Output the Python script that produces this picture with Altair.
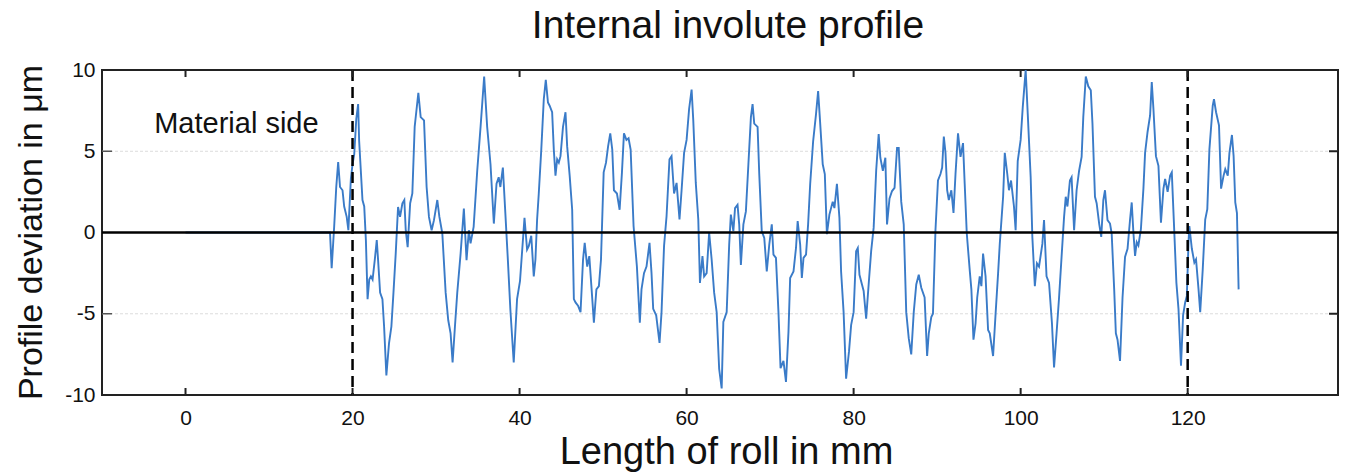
import altair as alt
import pandas as pd

# Length of roll in mm (x) and profile deviation in um (y)
x_mm = [
    0.0, 17.3, 17.5, 17.8, 18.05, 18.28, 18.5, 18.8, 19.0, 19.3, 19.5, 19.8, 20.0, 20.2, 20.45, 20.67,
    20.79, 21.19, 21.4, 21.6, 21.8, 22.0, 22.2, 22.4, 22.66, 22.9, 23.06, 23.3, 23.58, 23.78, 24.05,
    24.37, 24.65, 24.9, 25.17, 25.45, 25.69, 25.97, 26.2, 26.37, 26.6, 26.9, 27.16, 27.44, 27.88,
    28.16, 28.56, 28.87, 29.15, 29.47, 29.75, 30.15, 30.4, 30.75, 31.15, 31.46, 31.74, 31.98, 32.26,
    32.54, 32.94, 33.33, 33.65, 33.93, 34.13, 34.5, 34.93, 35.33, 35.76, 36.12, 36.52, 36.92, 37.24,
    37.5, 37.7, 38.0, 38.3, 38.6, 38.9, 39.3, 39.7, 40.05,
    40.59, 40.9, 41.1, 41.4, 41.7, 41.9, 42.1, 42.3, 42.6, 42.9, 43.14, 43.4, 43.6, 43.9, 44.1, 44.3,
    44.5, 44.7, 44.9, 45.2, 45.5, 45.7, 46.0, 46.3, 46.5, 46.7, 47.0, 47.3, 47.6, 47.8, 48.1, 48.35,
    48.6, 48.9, 49.2, 49.5, 49.75, 50.07, 50.35, 50.6, 50.86, 51.1, 51.3, 51.66, 51.98, 52.26, 52.5,
    52.8, 53.05, 53.3, 53.65, 54.05, 54.4, 54.6, 54.9, 55.2, 55.56, 55.8, 56.0, 56.36, 56.76, 57.0,
    57.3, 57.6, 57.95, 58.2, 58.5, 58.8, 59.15, 59.4, 59.7, 60.0, 60.3, 60.6, 60.8, 61.1, 61.4, 61.6,
    61.9, 62.1, 62.4, 62.7, 63.0, 63.3, 63.6, 63.9, 64.2,
    64.4, 64.8, 65.1, 65.3, 65.6, 65.8, 66.1, 66.3, 66.5, 66.8, 67.1, 67.4, 67.7, 67.9, 68.1, 68.5,
    68.7, 69.0, 69.3, 69.6, 69.9, 70.2, 70.4, 70.7, 71.0, 71.25, 71.6, 71.9, 72.2, 72.4, 72.8, 73.1,
    73.3, 73.6, 73.8, 74.0, 74.3, 74.55, 74.8, 75.15, 75.5, 75.75, 75.95, 76.3, 76.55, 76.8, 77.1,
    77.5, 77.7, 78.0, 78.3, 78.5, 78.8, 79.1, 79.45, 79.7, 80.0, 80.3, 80.5, 80.7, 81.0, 81.2, 81.5,
    81.8, 82.1, 82.4, 82.7, 83.0, 83.2, 83.5, 83.8, 84.0, 84.3, 84.6, 84.9, 85.2, 85.4, 85.7, 86.0,
    86.3, 86.6, 86.9, 87.2, 87.5, 87.8, 88.1,
    88.5, 88.8, 89.0, 89.3, 89.5, 89.8, 90.1, 90.4, 90.6, 90.8, 91.0, 91.2, 91.4, 91.7, 91.96, 92.2,
    92.5, 92.8, 93.1, 93.3, 93.55, 93.9, 94.1, 94.35, 94.6, 94.8, 95.1, 95.3, 95.5, 95.8, 96.1, 96.3,
    96.7, 97.0, 97.3, 97.5, 97.9, 98.1, 98.4, 98.6, 98.85, 99.2, 99.4, 99.65, 100.0, 100.25, 100.6,
    100.85, 101.2, 101.4, 101.7, 101.95, 102.2, 102.6, 102.8, 103.1, 103.4, 103.75, 104.0, 104.3,
    104.6, 104.9, 105.2, 105.4, 105.6, 105.9, 106.1, 106.4, 106.7, 107.0, 107.3, 107.5, 107.8, 108.1,
    108.4, 108.6, 108.9, 109.1, 109.4, 109.65, 109.9, 110.1, 110.4, 110.7, 110.9, 111.2, 111.4,
    111.6, 111.9,
    112.2, 112.5, 112.8, 113.1, 113.3, 113.5, 113.7, 113.9, 114.1, 114.4, 114.7, 114.9, 115.2, 115.5,
    115.7, 115.9, 116.2, 116.5, 116.8, 117.1, 117.3, 117.6, 117.9, 118.1, 118.4, 118.65, 118.9, 119.2,
    119.45, 119.7, 119.9, 120.1, 120.2, 120.5, 120.8, 121.0, 121.3, 121.5, 121.8, 122.1, 122.35,
    122.6, 123.0, 123.15, 123.4, 123.75, 124.0, 124.3, 124.5, 124.8, 125.0, 125.3, 125.5, 125.7,
    125.9, 126.1,
]
dev_um = [
    0.0, 0.0, -2.2, 0.35, 2.8, 4.33, 2.8, 2.6, 1.6, 0.96, 0.14, 3.3, 4.2, 4.8, 7.0, 7.9,
    5.65, 2.0, 1.6, -0.5, -4.1, -2.9, -2.7, -2.9, -1.7, -0.47, -1.7, -3.7, -4.1, -5.8, -8.8,
    -6.8, -5.8, -3.7, -1.3, 1.57, 0.96, 1.8, 2.0, 0.14, -0.9, 1.8, 2.4, 6.5, 8.6,
    7.1, 6.9, 2.8, 0.96, 0.14, 0.76, 2.0, 0.96, -0.06, -3.7, -5.4, -6.2, -8.0, -5.8,
    -3.7, -1.3, 1.47, -1.7, 0.14, -0.67, 0.35, 3.8, 6.5, 9.6, 6.5, 4.2, 0.55, 3.0,
    3.4, 2.8, 4.0, 1.16, -1.7, -4.75, -8.0, -4.1, -3.0,
    0.9, -1.05, -0.84, -0.2, -2.7, -1.66, 0.8, 2.4, 5.1, 8.2, 9.4, 8.0, 7.8, 7.4, 5.1, 3.5,
    4.5, 4.3, 4.7, 6.5, 7.4, 5.3, 3.5, 1.4, -4.1, -4.3, -4.5, -4.9, -1.66, -0.64, -2.1, -1.45,
    -3.3, -5.55, -3.5, -3.3, -1.66, 3.7, 4.3, 5.3, 6.1, 5.1, 2.6, 2.4, 1.4, 3.7, 6.1,
    5.7, 5.8, 5.1, 0.4, -2.1, -5.55, -3.5, -2.5, -2.1, -0.64, -2.5, -4.7, -5.1, -6.8, -4.9,
    -0.84, 1.0, 4.5, 4.7, 2.4, 3.05, 0.8, 2.6, 4.9, 5.7, 7.6, 8.8, 6.9, 3.05, 0.8, -3.1,
    -1.45, -2.7, -2.5, 0.0, -1.66, -3.7, -4.9, -8.4, -9.6,
    -5.5, -4.9, -0.74, 1.1, 0.08, 1.5, 1.7, 0.5, -2.0, 0.5, 1.3, 4.2, 7.1, 7.9, 6.7, 6.5,
    3.6, 0.08, -0.33, -2.4, -0.74, 0.5, -1.36, -1.56, -4.9, -8.35, -7.9, -9.2, -6.1, -2.8, -2.4, -0.95,
    0.7, -0.74, -2.8, -1.56, -1.36, 0.5, 3.0, 5.6, 7.3, 8.7, 7.1, 4.2, 3.6, -0.1, 1.1,
    1.9, 1.5, 3.0, 0.9, -2.4, -4.9, -9.0, -7.3, -5.7, -4.9, -1.15, -0.95, -2.6, -3.2, -3.6, -5.3,
    -3.2, -1.15, 0.3, 3.8, 6.05, 4.6, 3.8, 4.6, 0.5, 2.1, 2.55, 2.75, 5.2, 5.2, 1.9, 0.5,
    -4.9, -6.5, -7.5, -4.9, -3.2, -2.6, -3.4,
    -4.0, -7.6, -6.2, -5.2, -5.0, 0.14, 3.2, 3.6, 4.0, 5.9, 4.9, 2.6, 2.0, 2.6, 1.2, 3.6,
    6.1, 4.65, 5.5, 3.0, -0.06, -2.3, -3.5, -6.6, -5.6, -4.0, -2.7, -3.3, -1.3, -2.7, -6.0, -6.2,
    -7.6, -5.0, -2.5, -0.7, 2.2, 4.9, 3.6, 2.6, 3.2, 1.6, 0.14, 4.4, 5.7, 7.7, 10.0,
    7.3, 3.4, -0.27, -3.3, -1.9, -2.1, -0.7, 0.76, -2.7, -3.1, -5.6, -8.3, -6.2,
    -4.0, -1.5, 0.96, 2.2, 1.6, 3.2, 3.4, 0.14, 2.6, 3.8, 4.65, 7.1, 9.6, 9.0,
    8.75, 6.7, 2.2, 1.8, 0.55, -0.27, 2.0, 2.6, 0.76, 0.55, -0.06, -3.5, -6.2,
    -6.6, -7.9,
    -4.0, -1.5, -1.0, 0.8, 1.85, 0.0, -1.44, -0.6, -0.8, 0.2, 2.7, 4.9, 6.2, 7.2,
    9.26, 7.6, 4.7, 4.1, 0.6, 2.7, 3.3, 2.5, 3.5, 3.7, 0.0, -3.1, -4.7, -8.2,
    -5.1, -4.3, -3.9, -0.6, 0.4, -1.0, -1.85, -1.65, -3.5, -4.9, -2.3, 0.8, 1.44,
    5.1, 7.8, 8.2, 7.4, 6.6, 2.7, 3.5, 3.9, 3.5, 4.9, 6.0, 4.7, 1.85,
    1.2, -3.5,
]

x_ticks = [0, 20, 40, 60, 80, 100, 120]
y_ticks = [-10, -5, 0, 5, 10]
grid_values = [-5, 5]
marker_lines = [20, 120]
annotation = ["Material side"]
annotation_x = [-3.75]
annotation_y = [6.1]

FONT = "Liberation Sans"

df = pd.DataFrame({"x": x_mm, "y": dev_um, "i": list(range(len(x_mm)))})

xs = alt.Scale(domain=[-10, 138], nice=False, zero=False)
ys = alt.Scale(domain=[-10, 10], nice=False, zero=False)

neg_fix = "datum.value < 0 ? '-' + abs(datum.value) : '' + datum.value"

x_axis = alt.Axis(
    values=x_ticks, title="Length of roll in mm", grid=False, ticks=False, tickSize=0,
    domain=False, labelFontSize=21, labelFont=FONT, labelColor="#111", labelPadding=12,
    labelExpr=neg_fix, titleFontSize=38, titleFont=FONT, titleFontWeight="normal",
    titleColor="#111", titleX=624, titleY=68, titleBaseline="alphabetic", titleAlign="center",
)
y_axis = alt.Axis(
    values=y_ticks, title="Profile deviation in μm", grid=False, ticks=False, tickSize=0,
    domain=False, labelFontSize=21, labelFont=FONT, labelColor="#111", labelPadding=7,
    labelExpr=neg_fix, titleFontSize=34, titleFont=FONT, titleFontWeight="normal",
    titleColor="#111", titleAngle=-90, titleX=-61, titleY=162, titleBaseline="alphabetic",
    titleAlign="center",
)


def X(field):
    return alt.X(field, type="quantitative", scale=xs, axis=x_axis)


def Y(field):
    return alt.Y(field, type="quantitative", scale=ys, axis=y_axis)


grid = alt.Chart(pd.DataFrame({"y": grid_values})).mark_rule(
    color="#dcdcdc", strokeWidth=1, strokeDash=[3, 2]
).encode(y=Y("y"))

line = alt.Chart(df).mark_line(color="#3a7bc8", strokeWidth=1.9).encode(
    x=X("x"), y=Y("y"), order="i:Q",
)

zero = alt.Chart(pd.DataFrame({"y": [0]})).mark_rule(color="#000", strokeWidth=2.5).encode(
    y=Y("y")
)

dashed = alt.Chart(pd.DataFrame({"x": marker_lines})).mark_rule(
    color="#000", strokeWidth=2.5, strokeDash=[11, 6]
).encode(x=X("x"))

tick_df = pd.DataFrame({"x": x_ticks})
bottom_ticks = alt.Chart(tick_df).mark_rule(color="#222", strokeWidth=2).encode(
    x=X("x"), y=alt.value(318), y2=alt.value(325)
)
top_ticks = alt.Chart(tick_df).mark_rule(color="#222", strokeWidth=2).encode(
    x=X("x"), y=alt.value(0), y2=alt.value(7)
)
ytick_df = pd.DataFrame({"y": [-5, 5]})
left_ticks = alt.Chart(ytick_df).mark_rule(color="#555", strokeWidth=1.5).encode(
    y=Y("y"), x=alt.value(0), x2=alt.value(10)
)
right_ticks = alt.Chart(ytick_df).mark_rule(color="#222", strokeWidth=2).encode(
    y=Y("y"), x=alt.value(1227), x2=alt.value(1236)
)

label = alt.Chart(pd.DataFrame({"t": annotation, "x": annotation_x, "y": annotation_y})).mark_text(
    align="left", baseline="alphabetic", fontSize=29, font=FONT, color="#111"
).encode(
    x=X("x"), y=Y("y"), text="t:N",
)

chart = alt.layer(
    grid, line, zero, dashed, bottom_ticks, top_ticks, left_ticks, right_ticks, label
).properties(
    width=1236,
    height=325,
    title=alt.TitleParams(
        "Internal involute profile", fontSize=39, font=FONT, fontWeight="normal",
        color="#111", anchor="middle", frame="group", offset=13, dx=8
    ),
    padding={"left": 102, "top": 70, "right": 8, "bottom": 80},
    autosize="none",
).configure_view(
    stroke="#222", strokeWidth=2
)

chart.save("out.html", embed_options={"renderer": "svg", "actions": False})
